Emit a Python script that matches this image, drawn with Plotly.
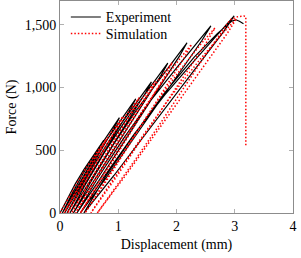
import plotly.graph_objects as go

# Experiment: cyclic load-unload path (displacement mm, force N)
exp_x = [0.0, 0.1125, 0.2625, 0.4125, 0.5625, 0.675, 0.75, 0.700, 0.537, 0.36, 0.182, 0.04,
         0.187, 0.383, 0.579, 0.775, 0.922, 1.02, 0.954, 0.738, 0.503, 0.268, 0.08,
         0.263, 0.507, 0.751, 0.995, 1.178, 1.30, 1.217, 0.946, 0.651, 0.356, 0.12,
         0.338, 0.628, 0.918, 1.208, 1.425, 1.57, 1.472, 1.15, 0.80, 0.45, 0.17,
         0.422, 0.758, 1.094, 1.43, 1.682, 1.85, 1.737, 1.364, 0.959, 0.554, 0.23,
         0.523, 0.913, 1.303, 1.693, 1.985, 2.18, 2.048, 1.613, 1.141, 0.668, 0.29,
         0.635, 1.095, 1.555, 2.015, 2.36, 2.59, 2.433, 1.918, 1.358, 0.798, 0.35,
         0.746, 1.274, 1.802, 2.33, 2.726, 2.99, 2.809, 2.216, 1.571, 0.926, 0.41,
         0.78, 1.3, 1.8, 2.3, 2.7, 2.95, 3.02, 3.08, 3.15]
exp_f = [0, 104, 232, 348, 452, 531, 580, 534, 400, 255, 110, 0,
         137, 304, 456, 593, 695, 760, 699, 524, 334, 144, 0,
         164, 364, 546, 710, 833, 910, 837, 628, 400, 173, 0,
         188, 418, 627, 815, 956, 1045, 961, 721, 460, 199, 0,
         215, 478, 717, 932, 1093, 1195, 1099, 825, 526, 227, 0,
         244, 543, 814, 1058, 1242, 1357, 1248, 936, 597, 258, 0,
         269, 597, 895, 1164, 1365, 1492, 1373, 1029, 656, 283, 0,
         283, 629, 943, 1226, 1438, 1572, 1446, 1085, 692, 299, 0,
         290, 640, 960, 1240, 1430, 1530, 1540, 1528, 1508]

# Simulation: cyclic load-unload path ending in failure drop
sim_x = [0.0, 0.12, 0.28, 0.44, 0.60, 0.72, 0.80, 0.749, 0.581, 0.399, 0.216, 0.07,
         0.222, 0.424, 0.626, 0.828, 0.979, 1.08, 1.014, 0.795, 0.558, 0.32, 0.13,
         0.315, 0.561, 0.807, 1.053, 1.237, 1.36, 1.279, 1.012, 0.722, 0.432, 0.20,
         0.416, 0.704, 0.992, 1.28, 1.496, 1.64, 1.544, 1.229, 0.887, 0.544, 0.27,
         0.519, 0.851, 1.183, 1.515, 1.764, 1.93, 1.819, 1.456, 1.061, 0.666, 0.35,
         0.637, 1.019, 1.401, 1.783, 2.069, 2.26, 2.132, 1.711, 1.254, 0.796, 0.43,
         0.765, 1.211, 1.657, 2.103, 2.437, 2.66, 2.511, 2.021, 1.489, 0.956, 0.53,
         0.905, 1.405, 1.905, 2.405, 2.78, 3.03, 2.863, 2.313, 1.716, 1.118, 0.64,
         0.95, 1.3, 1.67, 2.1, 2.5, 2.92, 3.05, 3.16, 3.19, 3.19]
sim_f = [0, 100, 230, 354, 466, 543, 590, 543, 407, 260, 112, 0,
         131, 300, 462, 608, 708, 770, 708, 531, 339, 146, 0,
         156, 359, 552, 727, 846, 920, 846, 635, 405, 175, 0,
         179, 410, 630, 830, 966, 1050, 966, 725, 462, 200, 0,
         204, 468, 720, 948, 1104, 1200, 1104, 828, 528, 228, 0,
         229, 525, 807, 1063, 1237, 1345, 1237, 928, 592, 256, 0,
         251, 575, 885, 1165, 1357, 1475, 1357, 1018, 649, 280, 0,
         264, 605, 930, 1225, 1426, 1550, 1426, 1070, 682, 295, 0,
         200, 430, 678, 980, 1260, 1540, 1565, 1570, 1565, 530]

x_ticks = [0, 1, 2, 3, 4]
y_ticks = [0, 500, 1000, 1500]
y_ticktext = ["0", "500", "1,000", "1,500"]

FONT = "Liberation Serif"

fig = go.Figure()
fig.add_trace(go.Scatter(x=exp_x, y=exp_f, mode="lines", name="Experiment",
                         line=dict(color="black", width=1.2), legend="legend"))
fig.add_trace(go.Scatter(x=sim_x, y=sim_f, mode="lines", name="Simulation",
                         line=dict(color="red", width=1.5, dash="1.5px,2px"), legend="legend2"))

axis_common = dict(showgrid=False, zeroline=False, showline=True, linecolor="#8c8c8c",
                   linewidth=1, mirror="ticks", ticks="inside", ticklen=4,
                   tickcolor="#b0b0b0", tickwidth=1, automargin=False,
                   tickfont=dict(family=FONT, size=14, color="black"))

legend_common = dict(x=0.025, xanchor="left", yanchor="top",
                     bgcolor="rgba(255,255,255,0)", borderwidth=0,
                     font=dict(family=FONT, size=14), itemwidth=30)

fig.update_layout(
    width=301, height=258,
    margin=dict(l=60, r=8, t=1, b=45),
    paper_bgcolor="white", plot_bgcolor="white",
    font=dict(family=FONT, size=14, color="black"),
    showlegend=True,
    legend=dict(y=0.998, **legend_common),
    legend2=dict(y=0.92, **legend_common),
    xaxis=dict(range=[0, 4], tickvals=x_ticks,
               title=dict(text="Displacement (mm)", font=dict(family=FONT, size=14), standoff=6),
               **axis_common),
    yaxis=dict(range=[0, 1690], tickvals=y_ticks, ticktext=y_ticktext,
               title=dict(text="Force (N)", font=dict(family=FONT, size=14), standoff=4),
               **axis_common),
)

fig.write_html("out.html", config={"displayModeBar": False},
               post_script="document.body.style.margin='0';document.body.style.padding='0';")
